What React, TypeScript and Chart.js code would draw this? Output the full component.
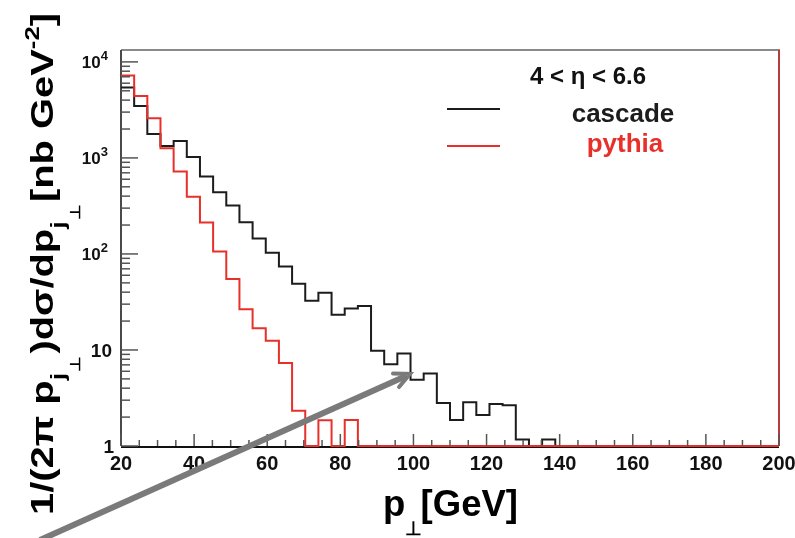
import React, { useEffect, useRef } from "react";
import { Chart, registerables } from "chart.js";

Chart.register(...registerables);

// ---------- data ----------
const xMin = 20;
const xMax = 200;
const binWidth = 3.6; // 50 bins between 20 and 200 GeV
const yMin = 1;
const yMax = 13300;

const cascade = [
  5400, 3470, 1770, 1330, 1500, 1020, 640, 440, 320, 214,
  145, 103, 74, 49, 32.6, 39.5, 23.3, 27, 28.7, 9.8,
  7.1, 9.2, 4.9, 5.7, 2.8, 1.87, 2.85, 2.1, 2.74, 2.65,
  1.17, 0, 1.17, 0, 0, 0, 0, 0, 0, 0,
  0, 0, 0, 0, 0, 0, 0, 0, 0, 0,
];

const pythia = [
  7200, 4420, 2590, 1260, 720, 395, 212, 106, 55, 26.5,
  16.8, 12.5, 7.3, 2.33, 0, 1.85, 0, 1.87, 0, 0,
  0, 0, 0, 0, 0, 0, 0, 0, 0, 0,
  0, 0, 0, 0, 0, 0, 0, 0, 0, 0,
  0, 0, 0, 0, 0, 0, 0, 0, 0, 0,
];

const xMajorTicks = [20, 40, 60, 80, 100, 120, 140, 160, 180, 200];
const xMinorStep = 5;
const yDecades = [1, 10, 100, 1000, 10000];
const yLabelBase = ["1", "10", "10", "10", "10"];
const yLabelExp = ["", "", "2", "3", "4"];

const legendTitle = "4 < η < 6.6";
const seriesNames = ["cascade", "pythia"];
const seriesColors = ["#1c1c1c", "#e8302a"];

// ---------- helpers ----------
const FONT = '"Liberation Sans", Arial, Helvetica, sans-serif';

function toSteps(vals: number[]) {
  const pts: { x: number; y: number }[] = [];
  vals.forEach((v, i) => {
    pts.push({ x: xMin + i * binWidth, y: Math.max(v, yMin) });
  });
  pts.push({ x: xMax, y: Math.max(vals[vals.length - 1], yMin) });
  return pts;
}

type Piece = { t: string; size: number; dy: number; color?: string; gap?: number };

function piecesWidth(ctx: CanvasRenderingContext2D, pieces: Piece[]) {
  let w = 0;
  for (const p of pieces) {
    ctx.font = `bold ${p.size}px ${FONT}`;
    w += ctx.measureText(p.t).width + (p.gap || 0);
  }
  return w;
}

function drawPieces(
  ctx: CanvasRenderingContext2D,
  pieces: Piece[],
  x: number,
  y: number,
  targetWidth?: number
) {
  const w = piecesWidth(ctx, pieces);
  const k = targetWidth ? targetWidth / w : 1;
  ctx.save();
  ctx.translate(x, y);
  ctx.scale(k, 1);
  ctx.textAlign = "left";
  ctx.textBaseline = "alphabetic";
  let cx = 0;
  for (const p of pieces) {
    ctx.font = `bold ${p.size}px ${FONT}`;
    ctx.fillStyle = p.color || "#000";
    ctx.fillText(p.t, cx, p.dy);
    cx += ctx.measureText(p.t).width + (p.gap || 0);
  }
  ctx.restore();
}

const decorPlugin = {
  id: "rootDecor",
  beforeDatasetsDraw(chart: any) {
    const { ctx, chartArea: a } = chart;
    ctx.save();
    ctx.lineCap = "butt";
    // top frame
    ctx.strokeStyle = "#8a8a8a";
    ctx.lineWidth = 2;
    ctx.beginPath();
    ctx.moveTo(a.left, a.top);
    ctx.lineTo(a.right + 1, a.top);
    ctx.stroke();
    // right frame
    ctx.strokeStyle = "#b83c3c";
    ctx.beginPath();
    ctx.moveTo(a.right, a.top);
    ctx.lineTo(a.right, a.bottom);
    ctx.stroke();
    // left axis
    ctx.strokeStyle = "#4a4a4a";
    ctx.beginPath();
    ctx.moveTo(a.left, a.top);
    ctx.lineTo(a.left, a.bottom);
    ctx.stroke();
    // bottom axis
    ctx.strokeStyle = "#111";
    ctx.beginPath();
    ctx.moveTo(a.left, a.bottom + 1);
    ctx.lineTo(a.right, a.bottom + 1);
    ctx.stroke();
    ctx.restore();
  },
  afterDatasetsDraw(chart: any) {
    const { ctx, chartArea: a } = chart;
    const xs = chart.scales.x;
    const ys = chart.scales.y;
    ctx.save();
    ctx.strokeStyle = "#555";
    ctx.lineWidth = 1.5;
    // x ticks
    for (let v = xMin; v <= xMax + 1e-6; v += xMinorStep) {
      const px = xs.getPixelForValue(v);
      const major = xMajorTicks.includes(v);
      const len = major ? 12 : 6;
      ctx.beginPath();
      ctx.moveTo(px, a.bottom);
      ctx.lineTo(px, a.bottom - len);
      ctx.stroke();
    }
    // y ticks
    for (let d = 0; d < yDecades.length; d++) {
      for (let m = 1; m <= 9; m++) {
        const v = yDecades[d] * m;
        if (v > yMax) break;
        const py = ys.getPixelForValue(v);
        const len = m === 1 ? 17 : 9;
        ctx.beginPath();
        ctx.moveTo(a.left, py);
        ctx.lineTo(a.left + len, py);
        ctx.stroke();
      }
    }
    ctx.restore();
  },
  afterDraw(chart: any) {
    const { ctx, chartArea: a } = chart;
    const xs = chart.scales.x;
    const ys = chart.scales.y;
    ctx.save();
    // x tick labels
    ctx.fillStyle = "#111";
    ctx.textAlign = "center";
    ctx.textBaseline = "middle";
    ctx.font = `bold 20px ${FONT}`;
    for (const v of xMajorTicks) {
      ctx.fillText(String(v), xs.getPixelForValue(v), a.bottom + 18);
    }
    // y tick labels
    for (let i = 0; i < yDecades.length; i++) {
      const py = ys.getPixelForValue(yDecades[i]);
      if (yLabelExp[i]) {
        ctx.font = `bold 13px ${FONT}`;
        const ew = ctx.measureText(yLabelExp[i]).width;
        ctx.textAlign = "left";
        ctx.textBaseline = "alphabetic";
        const right = 108;
        ctx.fillText(yLabelExp[i], right - ew, py - 2);
        ctx.font = `bold 17px ${FONT}`;
        ctx.textAlign = "right";
        ctx.fillText(yLabelBase[i], right - ew, py + 6);
      } else {
        ctx.font = `bold 19px ${FONT}`;
        ctx.textAlign = "right";
        ctx.textBaseline = "middle";
        ctx.fillText(yLabelBase[i], i === 0 ? 114 : 112, py + 2);
      }
    }
    ctx.restore();

    // x title
    drawPieces(
      ctx,
      [
        { t: "p", size: 36, dy: 0 },
        { t: "⊥", size: 19, dy: 19, gap: -2 },
        { t: "[GeV]", size: 36, dy: 0 },
      ],
      383,
      516,
      135
    );

    // y title (rotated)
    ctx.save();
    ctx.translate(53, 515);
    ctx.rotate(-Math.PI / 2);
    drawPieces(
      ctx,
      [
        { t: "1/(2π p", size: 31, dy: 0 },
        { t: "j", size: 21, dy: 12, gap: 1 },
        { t: "⊥", size: 14, dy: 27, gap: 2 },
        { t: ")dσ/dp", size: 31, dy: 0 },
        { t: "j", size: 21, dy: 12, gap: 1 },
        { t: "⊥", size: 14, dy: 27, gap: 2 },
        { t: "[nb GeV", size: 31, dy: 0 },
        { t: "-2", size: 20, dy: -14 },
        { t: "]", size: 31, dy: 0 },
      ],
      0,
      0,
      502
    );
    ctx.restore();

    // legend
    ctx.save();
    ctx.fillStyle = "#111";
    ctx.textAlign = "center";
    ctx.textBaseline = "alphabetic";
    ctx.font = `bold 24px ${FONT}`;
    ctx.fillText(legendTitle, 588, 84);
    ctx.font = `bold 26px ${FONT}`;
    ctx.fillStyle = seriesColors[0];
    ctx.fillText(seriesNames[0], 623, 122);
    ctx.fillStyle = seriesColors[1];
    ctx.fillText(seriesNames[1], 625, 152);
    ctx.lineWidth = 2;
    ctx.strokeStyle = seriesColors[0];
    ctx.beginPath();
    ctx.moveTo(447, 109);
    ctx.lineTo(500, 109);
    ctx.stroke();
    ctx.strokeStyle = seriesColors[1];
    ctx.beginPath();
    ctx.moveTo(447, 146);
    ctx.lineTo(500, 146);
    ctx.stroke();
    ctx.restore();

    // annotation arrow
    ctx.save();
    const x0 = 40, y0 = 540, x1 = 410, y1 = 374;
    ctx.strokeStyle = "#7a7a7a";
    ctx.lineWidth = 6;
    ctx.lineCap = "butt";
    ctx.beginPath();
    ctx.moveTo(x0, y0);
    ctx.lineTo(x1 - 4, y1 + 2);
    ctx.stroke();
    const ang = Math.atan2(y1 - y0, x1 - x0);
    ctx.lineWidth = 4;
    ctx.lineCap = "round";
    const L = 17;
    ctx.beginPath();
    ctx.moveTo(x1 + L * Math.cos(ang + Math.PI - 0.45), y1 + L * Math.sin(ang + Math.PI - 0.45));
    ctx.lineTo(x1, y1);
    ctx.lineTo(x1 + L * Math.cos(ang + Math.PI + 0.45), y1 + L * Math.sin(ang + Math.PI + 0.45));
    ctx.stroke();
    ctx.restore();
  },
};

export default function App() {
  const ref = useRef<HTMLCanvasElement | null>(null);
  useEffect(() => {
    if (!ref.current) return;
    const chart = new Chart(ref.current, {
      type: "line",
      data: {
        datasets: [
          {
            label: seriesNames[1],
            data: toSteps(pythia),
            borderColor: seriesColors[1],
            borderWidth: 2,
            stepped: "before",
            pointRadius: 0,
            fill: false,
            clip: false,
          },
          {
            label: seriesNames[0],
            data: toSteps(cascade),
            borderColor: seriesColors[0],
            borderWidth: 2,
            stepped: "before",
            pointRadius: 0,
            fill: false,
            clip: false,
          },
        ],
      },
      options: {
        responsive: false,
        animation: false,
        devicePixelRatio: 1,
        layout: { padding: { left: 121, right: 16, top: 50, bottom: 92 } },
        plugins: { legend: { display: false }, tooltip: { enabled: false } },
        scales: {
          x: { type: "linear", min: xMin, max: xMax, display: false },
          y: { type: "logarithmic", min: yMin, max: yMax, display: false },
        },
      },
      plugins: [decorPlugin],
    });
    return () => chart.destroy();
  }, []);
  return (
    <div style={{ position: "absolute", left: 0, top: 0, width: 795, height: 538, background: "#fff" }}>
      <canvas ref={ref} width={795} height={538} style={{ width: 795, height: 538, display: "block" }} />
    </div>
  );
}
